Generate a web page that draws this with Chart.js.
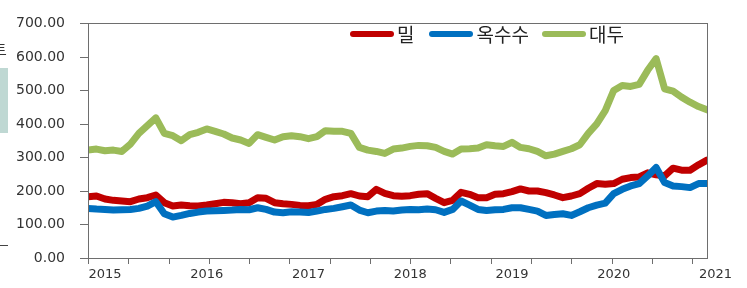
<!DOCTYPE html>
<html lang="ko">
  <head>
    <meta charset="UTF-8" />
    <title>밀 옥수수 대두</title>
    <script src="https://cdn.jsdelivr.net/npm/chart.js"></script>
    <style>
      body { margin: 0; background: #fff; }
      .wrap { position: relative; width: 747px; height: 288px; overflow: hidden; }
      .legend {
        position: absolute; top: 20px; left: 350px;
        display: flex; align-items: center;
        font-family: "Noto Sans CJK KR", sans-serif; font-size: 19px; color: #222;
      }
      .legend .item { display: flex; align-items: center; }
      .legend .line { display: inline-block; width: 44px; height: 6px; border-radius: 3px; margin-right: 3px; }
      .side-box { position: absolute; left: 0; top: 68px; width: 8px; height: 65px; background: #bfd8d3; }
      .side-line { position: absolute; left: 0; top: 245px; width: 8px; height: 1px; background: #444; }
      .side-text { position: absolute; left: -7px; top: 38px; font-family: "Noto Sans CJK KR"; font-size: 15px; color: #333; }
    </style>
  </head>
  <body>
    <div class="wrap">
      <canvas id="myChart" width="747" height="288"></canvas>
      <div class="legend" id="legend"></div>
      <div class="side-box"></div>
      <div class="side-line"></div>
      <div class="side-text">트</div>
    </div>
    <script>
      // monthly values, 2014-11 .. 2020-12
      let seriesNames = ["밀", "옥수수", "대두"];
      let seriesColors = ["#C00000", "#0070C0", "#9BBB59"];

      let wheat = [
        183, 185, 176, 172, 170, 168, 176, 180, 188, 165,
        155, 158, 156, 155, 158, 162, 166, 165, 162, 165,
        180, 178, 165, 162, 160, 157, 156, 160, 175, 183,
        186, 192, 185, 183, 205, 193, 186, 184, 186, 190,
        192, 178, 165, 172, 196, 190, 180, 180, 190, 192,
        198, 206, 200, 200, 195, 188, 180, 185, 192, 208,
        222, 220, 222, 235, 240, 242, 254, 248, 245, 268,
        262, 262, 278, 292
      ];
      let corn = [
        148, 146, 145, 143, 144, 145, 148, 155, 168, 132,
        122, 127, 133, 137, 140, 141, 142, 143, 145, 144,
        150, 145, 137, 135, 138, 137, 136, 140, 145, 148,
        153, 158, 143, 135, 140, 142, 140, 143, 145, 144,
        146, 144, 136, 145, 170, 158, 145, 142, 144, 145,
        150, 150, 145, 140, 127, 130, 132, 127, 138, 150,
        158, 164, 192, 205, 215, 222, 245, 270, 225, 215,
        213, 210, 222, 222
      ];
      let soybean = [
        322, 325, 320, 322, 318, 340, 372, 395, 418, 372,
        365, 350, 368, 375, 385, 378, 370, 358, 352, 342,
        368, 360, 352, 362, 365, 362, 356, 362, 380, 378,
        378, 372, 330, 322, 318, 312, 325, 328, 333, 336,
        335, 330, 318, 310, 325, 326, 328, 338, 335, 333,
        345, 330, 326, 318, 305, 310, 318, 326, 338, 372,
        400, 440, 500, 515, 512, 518, 560, 595, 505, 498,
        480, 465, 452, 442
      ];

      let yearLabels = ["2015", "2016", "2017", "2018", "2019", "2020", "2021"];
      let yTicks = [0, 100, 200, 300, 400, 500, 600, 700];

      let firstYearAt = 2;   // month index of the first January
      let tickStep = 4.75;   // spacing of x tick marks, in months
      let lastIndex = wheat.length - 1;

      function points(arr) {
        return arr.map((v, i) => ({ x: i, y: v }));
      }

      // html legend
      let legendDiv = document.getElementById("legend");
      let gaps = [15, 13, 0];
      seriesNames.forEach((name, i) => {
        let item = document.createElement("span");
        item.className = "item";
        item.style.marginRight = gaps[i] + "px";
        item.innerHTML =
          '<span class="line" style="background:' + seriesColors[i] + '"></span><span>' + name + "</span>";
        legendDiv.appendChild(item);
      });

      // frame round the plot + tick marks on both axes
      const framePlugin = {
        id: "frame",
        afterDraw(chart) {
          const { ctx, chartArea } = chart;
          const xs = chart.scales.x;
          const ys = chart.scales.y;
          const left = Math.round(chartArea.left);
          const bottom = Math.round(chartArea.bottom);
          ctx.save();
          ctx.fillStyle = "#6e6e6e";
          for (let v = 0; v <= lastIndex; v += tickStep) {
            const px = Math.round(xs.getPixelForValue(v));
            ctx.fillRect(px, bottom, 1, 6);
          }
          yTicks.forEach((v) => {
            const py = Math.round(ys.getPixelForValue(v));
            ctx.fillRect(left - 8, py, 8, 1);
          });
          ctx.strokeStyle = "#6e6e6e";
          ctx.lineWidth = 1;
          ctx.strokeRect(
            left + 0.5,
            Math.round(chartArea.top) + 0.5,
            Math.round(chartArea.right - chartArea.left),
            Math.round(chartArea.bottom - chartArea.top)
          );
          ctx.restore();
        },
      };

      const ctx = document.getElementById("myChart");
      const allSeries = [wheat, corn, soybean];

      new Chart(ctx, {
        type: "line",
        data: {
          datasets: allSeries.map((arr, i) => ({
            label: seriesNames[i],
            data: points(arr),
            borderColor: seriesColors[i],
            backgroundColor: seriesColors[i],
            borderWidth: 7,
            pointRadius: 0,
            tension: 0,
            borderJoinStyle: "round",
            borderCapStyle: "round",
            order: 3 - i,
          })),
        },
        options: {
          responsive: false,
          animation: false,
          layout: { padding: { top: 10, right: 40, left: 0, bottom: 0 } },
          plugins: {
            legend: { display: false },
            tooltip: { enabled: false },
          },
          scales: {
            x: {
              type: "linear",
              min: 0,
              max: lastIndex,
              afterBuildTicks(scale) {
                scale.ticks = yearLabels.map((y, k) => ({ value: firstYearAt + 12 * k, text: y }));
              },
              afterFit(scale) {
                scale.height = 30;
              },
              ticks: {
                autoSkip: false,
                maxRotation: 0,
                padding: 4,
                color: "#333",
                font: { family: "DejaVu Sans", size: 13 },
                callback: (v, i, ticks) => ticks[i].text || "",
              },
              grid: {
                drawOnChartArea: false,
                tickLength: 5,
                tickColor: "rgba(0,0,0,0)",
              },
              border: { display: false },
            },
            y: {
              min: 0,
              max: 700,
              afterBuildTicks(scale) {
                scale.ticks = yTicks.map((v) => ({ value: v }));
              },
              afterFit(scale) {
                scale.width = 88;
              },
              ticks: {
                padding: 15,
                color: "#333",
                font: { family: "DejaVu Sans", size: 14 },
                callback: (v) => Number(v).toFixed(2),
              },
              grid: {
                drawOnChartArea: false,
                tickLength: 8,
                tickColor: "rgba(0,0,0,0)",
              },
              border: { display: false },
            },
          },
        },
        plugins: [framePlugin],
      });
    </script>
  </body>
</html>
